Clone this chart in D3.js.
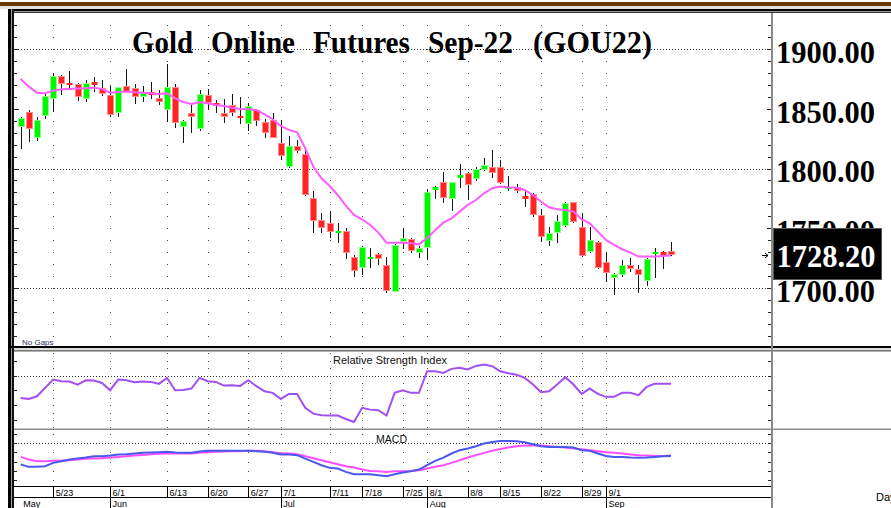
<!DOCTYPE html>
<html>
<head>
<meta charset="utf-8">
<title>Gold Online Futures Sep-22 (GOU22)</title>
<script src="https://cdn.jsdelivr.net/npm/d3@7"></script>
<style>
  body { margin: 0; background: #fff; }
  svg { display: block; }
  .serif-bold { font-family: 'Liberation Serif', 'Times New Roman', serif; font-weight: bold; }
  .sans { font-family: 'Liberation Sans', Arial, sans-serif; }
</style>
</head>
<body>
<svg id="chart"></svg>
<script>
// daily bars (mid May .. mid Sep 2022)
const opens = [1835.0, 1847.5, 1825.8, 1844.1, 1857.8, 1877.2, 1871.7, 1870.3, 1858.0, 1872.2, 1867.0, 1861.4, 1846.1, 1868.9, 1867.0, 1860.0, 1863.6, 1859.2, 1848.9, 1867.8,
  1835.0, 1846.6, 1832.7, 1861.7, 1854.4, 1846.6, 1853.0, 1843.9, 1837.2, 1848.9, 1838.6, 1840.5, 1821.6, 1801.6, 1818.8, 1812.1, 1775.7, 1757.1, 1754.8, 1745.9,
  1747.9, 1726.5, 1716.7, 1725.6, 1728.7, 1719.5, 1697.2, 1739.0, 1740.9, 1729.8, 1733.4, 1782.1, 1788.5, 1774.3, 1791.8, 1796.0, 1791.0, 1798.8, 1801.0, 1801.0,
  1784.0, 1784.3, 1777.1, 1778.8, 1761.2, 1739.8, 1745.9, 1752.3, 1771.8, 1750.9, 1730.6, 1739.0, 1722.3, 1708.4, 1711.2, 1719.5, 1716.2, 1706.4, 1728.7, 1730.1, 1731.5];
const highs = [1843.3, 1848.9, 1843.3, 1862.8, 1880.0, 1878.1, 1881.4, 1871.1, 1873.9, 1876.1, 1873.9, 1868.9, 1868.3, 1883.1, 1870.6, 1868.9, 1872.5, 1865.6, 1887.3, 1870.6,
  1840.5, 1855.0, 1865.6, 1866.1, 1857.2, 1857.8, 1861.9, 1860.0, 1855.0, 1849.4, 1841.1, 1846.6, 1840.5, 1827.2, 1823.8, 1817.7, 1781.5, 1762.6, 1764.6, 1754.8,
  1750.1, 1727.8, 1735.6, 1733.4, 1729.2, 1726.5, 1736.7, 1750.1, 1741.8, 1735.4, 1782.7, 1785.4, 1797.4, 1789.0, 1803.5, 1797.4, 1801.0, 1808.5, 1815.5, 1807.1,
  1793.8, 1787.1, 1781.5, 1779.9, 1766.0, 1750.9, 1761.2, 1771.8, 1772.3, 1762.6, 1751.5, 1739.8, 1730.6, 1712.6, 1723.7, 1725.0, 1719.5, 1725.0, 1733.4, 1731.5, 1739.0];
const lows = [1816.0, 1822.4, 1823.3, 1841.1, 1846.9, 1861.4, 1867.0, 1856.4, 1855.8, 1864.2, 1860.8, 1842.7, 1843.3, 1863.6, 1853.6, 1855.8, 1857.8, 1853.0, 1838.6, 1834.1,
  1821.0, 1829.4, 1831.6, 1848.9, 1846.6, 1837.7, 1843.9, 1837.2, 1831.6, 1835.8, 1825.8, 1825.2, 1807.1, 1800.2, 1813.2, 1777.1, 1745.9, 1745.9, 1741.8, 1737.6,
  1724.2, 1709.2, 1711.2, 1716.7, 1719.5, 1695.9, 1696.7, 1732.6, 1729.2, 1725.0, 1723.7, 1774.3, 1771.0, 1764.8, 1783.5, 1773.7, 1789.9, 1798.2, 1791.8, 1787.1,
  1781.5, 1779.3, 1768.2, 1759.8, 1739.0, 1735.4, 1738.1, 1751.5, 1754.3, 1725.9, 1729.8, 1715.9, 1705.6, 1694.5, 1709.2, 1713.9, 1695.9, 1702.0, 1708.4, 1715.9, 1727.0];
const closes = [1841.9, 1833.0, 1840.5, 1860.6, 1877.5, 1870.6, 1870.8, 1859.4, 1871.7, 1870.0, 1862.2, 1845.0, 1867.8, 1864.2, 1859.4, 1862.8, 1861.4, 1855.8, 1868.3, 1838.3,
  1839.4, 1842.7, 1862.2, 1855.0, 1852.2, 1842.7, 1846.1, 1841.9, 1852.2, 1839.7, 1829.4, 1825.8, 1810.5, 1818.8, 1814.9, 1777.9, 1756.5, 1750.1, 1747.3, 1747.6,
  1729.2, 1714.8, 1734.8, 1726.2, 1724.2, 1698.1, 1736.2, 1742.3, 1731.5, 1734.0, 1780.7, 1784.9, 1775.1, 1788.5, 1794.6, 1786.3, 1799.3, 1803.0, 1796.6, 1788.2,
  1784.9, 1781.5, 1774.9, 1761.2, 1742.6, 1745.9, 1756.2, 1771.0, 1755.7, 1727.3, 1740.4, 1716.7, 1713.1, 1711.7, 1719.5, 1715.9, 1711.2, 1724.5, 1730.1, 1727.8, 1728.2];

// moving average drawn over the bars
const maValues = [1874.7, 1868.3, 1863.3, 1862.8, 1865.0, 1866.1, 1866.4, 1866.7, 1866.9, 1867.5, 1866.4, 1863.3, 1863.9, 1864.2, 1863.6, 1863.3, 1862.8, 1862.2, 1862.8, 1858.6, 1855.5,
  1853.9, 1855.3, 1854.4, 1853.0, 1852.2, 1850.8, 1849.7, 1849.4, 1848.9, 1845.2, 1841.1, 1835.5, 1832.2, 1830.2, 1816.9, 1801.6, 1791.8, 1785.4, 1777.9, 1769.0,
  1761.2, 1757.6, 1752.9, 1746.5, 1738.1, 1738.1, 1738.1, 1737.6, 1736.7, 1741.8, 1748.7, 1754.8, 1758.4, 1764.0, 1769.6, 1773.7, 1779.3, 1783.5, 1784.9, 1784.3,
  1784.0, 1782.1, 1777.9, 1772.4, 1767.6, 1766.0, 1765.4, 1764.0, 1757.6, 1754.3, 1747.3, 1740.4, 1736.2, 1732.6, 1729.8, 1726.5, 1726.5, 1726.5, 1727.0, 1727.3];

// lower studies
const rsiValues = [54.9, 54.2, 56.0, 61.7, 67.3, 66.2, 65.9, 63.9, 66.8, 66.6, 65.0, 60.1, 67.3, 66.8, 65.5, 65.9, 65.7, 64.4, 68.4, 60.1,
  60.3, 61.2, 68.4, 66.2, 65.7, 63.2, 63.5, 63.0, 66.8, 62.8, 59.4, 58.3, 54.2, 57.6, 57.6, 48.2, 44.3, 43.2, 43.0, 43.0,
  40.7, 38.7, 48.2, 47.0, 46.6, 43.0, 58.3, 60.1, 58.3, 58.3, 72.9, 72.9, 71.8, 74.5, 75.2, 74.1, 76.5, 77.4, 76.3, 72.9,
  71.6, 70.5, 68.4, 64.1, 58.7, 59.4, 63.9, 68.9, 63.9, 57.6, 61.2, 57.6, 55.6, 55.6, 58.3, 58.3, 56.7, 62.3, 64.4, 64.4, 64.4];
const macdValues = [-23.2, -25.7, -25.7, -25.0, -21.4, -19.6, -17.8, -16.7, -15.6, -14.1, -14.1, -13.4, -12.3, -12.0, -11.2, -10.5, -10.1, -9.8, -9.4, -10.1,
  -10.5, -10.5, -9.1, -8.3, -8.3, -8.3, -8.3, -8.3, -8.3, -8.7, -9.4, -10.5, -12.3, -12.3, -13.0, -16.7, -20.3, -23.9, -26.8, -27.5,
  -31.2, -33.7, -33.7, -33.7, -34.8, -35.9, -33.7, -31.9, -30.4, -28.6, -23.9, -19.2, -15.6, -11.2, -7.6, -5.8, -3.3, -0.4, 1.4, 2.5,
  2.5, 2.2, 1.1, -1.1, -3.3, -4.0, -4.0, -4.0, -4.7, -7.6, -8.3, -11.2, -13.8, -14.9, -14.9, -15.6, -15.9, -15.6, -14.9, -14.1, -13.8];
const signalValues = [-14.9, -17.8, -19.6, -19.6, -19.2, -19.2, -18.5, -17.8, -17.0, -16.7, -16.3, -15.6, -14.9, -14.1, -13.4, -12.7, -12.0, -11.6, -11.2, -11.2,
  -11.2, -11.2, -10.5, -9.8, -9.4, -9.1, -8.7, -8.7, -8.3, -8.3, -8.7, -9.8, -10.9, -11.2, -12.0, -14.1, -16.3, -18.5, -20.7, -22.8,
  -25.0, -26.4, -28.6, -30.1, -30.4, -31.2, -30.4, -30.4, -30.1, -29.3, -27.5, -25.7, -23.9, -21.4, -18.5, -15.6, -13.0, -10.5, -8.3, -6.2,
  -4.7, -3.3, -2.5, -2.2, -2.5, -3.3, -4.0, -4.7, -5.8, -6.5, -7.6, -8.7, -9.8, -10.5, -11.2, -12.3, -13.0, -13.4, -13.8, -13.8, -13.4];

// tick labels (bar index where each one sits)
const dayTickIndex = [4, 11, 18, 23, 28, 32, 38, 42, 47, 50, 55, 59, 64, 69, 72];
const dayTickLabels = ['5/23', '6/1', '6/13', '6/20', '6/27', '7/1', '7/11', '7/18', '7/25', '8/1', '8/8', '8/15', '8/22', '8/29', '9/1'];
const monthTickIndex = [0, 11, 32, 50, 72];
const monthTickLabels = ['May', 'Jun', 'Jul', 'Aug', 'Sep'];
const priceTicks = [1700, 1750, 1800, 1850, 1900];
const rsiTicks = [40, 50, 60, 70, 80];
const macdTicks = [-40, -30, -20, -10, 0, 10];
const lastPrice = 1728.20;
const titleWords = ['Gold', 'Online', 'Futures', 'Sep-22', '(GOU22)'];


class FuturesChart {

  constructor(_config) {
    this.config = {
      parentElement: _config.parentElement,
      containerWidth: _config.containerWidth || 891,
      containerHeight: _config.containerHeight || 508,
      plotLeft: 15,
      plotRight: 771
    };
    this.data = opens.map((o, i) => ({ i: i, open: o, high: highs[i], low: lows[i], close: closes[i] }));
    this.initVis();
  }

  initVis() {
    let vis = this;

    vis.svg = d3.select(vis.config.parentElement)
        .attr('width', vis.config.containerWidth)
        .attr('height', vis.config.containerHeight);

    vis.xScale = d3.scaleLinear()
        .domain([0, vis.data.length - 1])
        .range([20.7, 671]);

    vis.yPrice = d3.scaleLinear()
        .domain([1700, 1900])
        .range([288.3, 48.7]);

    vis.yRsi = d3.scaleLinear()
        .domain([40, 80])
        .range([420, 360.7]);

    vis.yMacd = d3.scaleLinear()
        .domain([-40, 10])
        .range([480, 434]);

    // pixel column of a bar
    vis.col = i => Math.round(vis.xScale(i));

    vis.renderVis();
  }

  renderVis() {
    let vis = this;
    vis.drawFrame();
    vis.drawGrid();
    vis.drawAxes();
    vis.drawCandles();
    vis.drawStudies();
    vis.drawText();
  }

  drawFrame() {
    let vis = this;
    const W = vis.config.containerWidth;
    const f = vis.svg.append('g').attr('shape-rendering', 'crispEdges');

    f.append('rect').attr('width', W).attr('height', vis.config.containerHeight).attr('fill', '#fff');
    // brown strip on top
    f.append('rect').attr('x', 0).attr('y', 2).attr('width', W).attr('height', 4).attr('fill', '#6b3a0b');
    f.append('rect').attr('x', 0).attr('y', 6).attr('width', W).attr('height', 3).attr('fill', '#e4e4e4');
    // double frame line
    f.append('rect').attr('x', 8).attr('y', 9).attr('width', W - 8).attr('height', 2).attr('fill', '#000');
    f.append('rect').attr('x', 8).attr('y', 11).attr('width', W - 8).attr('height', 1).attr('fill', '#9a9a9a');
    f.append('rect').attr('x', 8).attr('y', 12).attr('width', W - 8).attr('height', 1).attr('fill', '#333');
    // left border
    f.append('rect').attr('x', 8).attr('y', 9).attr('width', 3).attr('height', 499).attr('fill', '#000');
    f.append('rect').attr('x', 11).attr('y', 9).attr('width', 1).attr('height', 499).attr('fill', '#9a9a9a');
    f.append('rect').attr('x', 12).attr('y', 9).attr('width', 2).attr('height', 499).attr('fill', '#111');

    // price panel bottom and study separators
    f.append('rect').attr('x', 8).attr('y', 346).attr('width', W - 8).attr('height', 2).attr('fill', '#000');
    f.append('rect').attr('x', 14).attr('y', 348).attr('width', W - 14).attr('height', 2).attr('fill', '#dcdcdc');
    f.append('rect').attr('x', 14).attr('y', 350).attr('width', W - 14).attr('height', 1).attr('fill', '#7a7a7a');
    f.append('rect').attr('x', 14).attr('y', 351).attr('width', W - 14).attr('height', 1).attr('fill', '#b0b0b0');
    f.append('rect').attr('x', 14).attr('y', 428).attr('width', W - 14).attr('height', 1).attr('fill', '#c8c8c8');
    f.append('rect').attr('x', 14).attr('y', 429).attr('width', W - 14).attr('height', 1).attr('fill', '#8a8a8a');

    // date strip
    f.append('rect').attr('x', 14).attr('y', 486).attr('width', vis.config.plotRight - 14).attr('height', 1).attr('fill', '#000');
    f.append('rect').attr('x', 14).attr('y', 497).attr('width', vis.config.plotRight - 14).attr('height', 1).attr('fill', '#000');

    // right scale line
    f.append('rect').attr('x', vis.config.plotRight).attr('y', 13).attr('width', 2).attr('height', 495).attr('fill', '#8a8a8a');
  }

  drawGrid() {
    let vis = this;
    const g = vis.svg.append('g').attr('shape-rendering', 'crispEdges');

    const dotGrid = (levels, yScale, skip) => {
      g.append('g').selectAll('rect')
          .data(d3.cross(dayTickIndex, levels.filter(v => v !== skip)))
          .join('rect')
          .attr('x', d => vis.col(d[0]))
          .attr('y', d => Math.round(yScale(d[1])))
          .attr('width', 1)
          .attr('height', 1)
          .attr('fill', '#444');
    };

    const dotLine = (y) => {
      g.append('line')
          .attr('x1', vis.config.plotLeft).attr('x2', vis.config.plotRight)
          .attr('y1', Math.round(y) + 0.5).attr('y2', Math.round(y) + 0.5)
          .attr('stroke', '#333')
          .attr('stroke-dasharray', '1,2');
    };

    dotGrid(d3.range(1660, 1921, 10), vis.yPrice, null);
    g.selectAll('.skip').remove();
    [1700, 1800, 1900].forEach(v => dotLine(vis.yPrice(v)));

    dotGrid(d3.range(35, 86, 5), vis.yRsi, 70);
    dotLine(vis.yRsi(70));

    dotGrid(macdTicks, vis.yMacd, 0);
    dotLine(vis.yMacd(0));
  }

  drawAxes() {
    let vis = this;
    const tickOnly = (axis) => (g) => {
      g.call(axis);
      g.select('.domain').remove();
      g.selectAll('text').remove();
      g.selectAll('line').attr('stroke', '#222');
      g.attr('shape-rendering', 'crispEdges');
    };

    // left ticks
    vis.svg.append('g').attr('transform', 'translate(14,0)')
        .call(tickOnly(d3.axisRight(vis.yPrice).tickValues(d3.range(1660, 1921, 10)).tickSize(3)));
    vis.svg.append('g').attr('transform', 'translate(14,0)')
        .call(tickOnly(d3.axisRight(vis.yPrice).tickValues(priceTicks).tickSize(5)));
    vis.svg.append('g').attr('transform', 'translate(14,0)')
        .call(tickOnly(d3.axisRight(vis.yRsi).tickValues(rsiTicks).tickSize(3)));
    vis.svg.append('g').attr('transform', 'translate(14,0)')
        .call(tickOnly(d3.axisRight(vis.yMacd).tickValues(macdTicks).tickSize(3)));

    // right ticks
    vis.svg.append('g').attr('transform', `translate(${vis.config.plotRight},0)`)
        .call(tickOnly(d3.axisLeft(vis.yPrice).tickValues(d3.range(1660, 1921, 10)).tickSize(3)));
    vis.svg.append('g').attr('transform', `translate(${vis.config.plotRight},0)`)
        .call(tickOnly(d3.axisLeft(vis.yPrice).tickValues(priceTicks).tickSize(4)));
    vis.svg.append('g').attr('transform', `translate(${vis.config.plotRight},0)`)
        .call(tickOnly(d3.axisLeft(vis.yRsi).tickValues(rsiTicks).tickSize(3)));
    vis.svg.append('g').attr('transform', `translate(${vis.config.plotRight},0)`)
        .call(tickOnly(d3.axisLeft(vis.yMacd).tickValues(macdTicks).tickSize(3)));

    // price labels on the right
    vis.svg.append('g')
        .attr('transform', `translate(${vis.config.plotRight},0)`)
        .call(d3.axisRight(vis.yPrice).tickValues(priceTicks).tickSize(0).tickPadding(5).tickFormat(d3.format('.2f')))
        .call(g => g.select('.domain').remove())
        .call(g => g.selectAll('text')
            .attr('class', 'serif-bold')
            .attr('font-size', 32)
            .attr('fill', '#000')
            .attr('dy', '0.42em')
            .attr('textLength', 99)
            .attr('lengthAdjust', 'spacingAndGlyphs'));

    // date axis: day row + month row
    const dateRow = (tickIdx, labels, top, skipFirstLine) => {
      vis.svg.append('g')
          .attr('transform', `translate(0,${top})`)
          .call(d3.axisBottom(vis.xScale).tickValues(tickIdx).tickSize(11).tickFormat((d, i) => labels[i]))
          .call(g => g.select('.domain').remove())
          .call(g => g.selectAll('line').attr('stroke', '#000').attr('shape-rendering', 'crispEdges'))
          .call(g => g.selectAll('.tick').filter((d, i) => skipFirstLine && i === 0).select('line').remove())
          .call(g => g.selectAll('text')
              .attr('class', 'sans')
              .attr('font-size', 9)
              .attr('fill', '#000')
              .attr('text-anchor', 'start')
              .attr('x', 2)
              .attr('y', 9.5)
              .attr('dy', 0));
    };
    dateRow(dayTickIndex, dayTickLabels, 486, false);
    dateRow(monthTickIndex, monthTickLabels, 497, true);
  }

  drawCandles() {
    let vis = this;
    const upFill = '#00f800', upEdge = '#8cff8c';
    const downFill = '#ff2424', downEdge = '#ff8c8c';

    const g = vis.svg.append('g').attr('shape-rendering', 'crispEdges');

    g.selectAll('.wick')
        .data(vis.data)
        .join('line')
        .attr('class', 'wick')
        .attr('x1', d => vis.col(d.i) + 0.5)
        .attr('x2', d => vis.col(d.i) + 0.5)
        .attr('y1', d => Math.round(vis.yPrice(d.high)))
        .attr('y2', d => Math.round(vis.yPrice(d.low)))
        .attr('stroke', '#151515');

    const body = d => {
      const top = Math.round(vis.yPrice(Math.max(d.open, d.close)));
      const bot = Math.max(top + 2, Math.round(vis.yPrice(Math.min(d.open, d.close))));
      return { top: top, h: bot - top, up: d.close >= d.open };
    };

    g.selectAll('.body-edge')
        .data(vis.data)
        .join('rect')
        .attr('class', 'body-edge')
        .attr('x', d => vis.col(d.i) - 3)
        .attr('width', 7)
        .attr('y', d => body(d).top)
        .attr('height', d => body(d).h)
        .attr('fill', d => body(d).up ? upEdge : downEdge);

    g.selectAll('.body')
        .data(vis.data)
        .join('rect')
        .attr('class', 'body')
        .attr('x', d => vis.col(d.i) - 2)
        .attr('width', 5)
        .attr('y', d => body(d).h > 3 ? body(d).top + 1 : body(d).top)
        .attr('height', d => body(d).h > 3 ? body(d).h - 2 : body(d).h)
        .attr('fill', d => body(d).up ? upFill : downFill);

    vis.svg.append('path')
        .datum(maValues)
        .attr('fill', 'none')
        .attr('stroke', '#ff5cff')
        .attr('stroke-width', 2)
        .attr('d', d3.line().x((d, i) => vis.xScale(i)).y(d => vis.yPrice(d)));
  }

  drawStudies() {
    let vis = this;

    vis.svg.append('path')
        .datum(rsiValues)
        .attr('fill', 'none')
        .attr('stroke', '#a24ff2')
        .attr('stroke-width', 2)
        .attr('d', d3.line().x((d, i) => vis.xScale(i)).y(d => vis.yRsi(d)));

    vis.svg.append('path')
        .datum(signalValues)
        .attr('fill', 'none')
        .attr('stroke', '#ff4cff')
        .attr('stroke-width', 2)
        .attr('d', d3.line().x((d, i) => vis.xScale(i)).y(d => vis.yMacd(d)));

    vis.svg.append('path')
        .datum(macdValues)
        .attr('fill', 'none')
        .attr('stroke', '#4a58ee')
        .attr('stroke-width', 2)
        .attr('d', d3.line().x((d, i) => vis.xScale(i)).y(d => vis.yMacd(d)));
  }

  drawText() {
    let vis = this;

    // title, word by word (the original leaves wide gaps)
    const wordX = [132, 211, 313, 428, 533];
    const wordW = [61, 84, 97, 85, 119];
    vis.svg.append('g').selectAll('text')
        .data(titleWords)
        .join('text')
        .attr('class', 'serif-bold')
        .attr('font-size', 31)
        .attr('x', (d, i) => wordX[i])
        .attr('y', 53)
        .attr('textLength', (d, i) => wordW[i])
        .attr('lengthAdjust', 'spacingAndGlyphs')
        .attr('fill', '#000')
        .text(d => d);

    // last price marker
    const yLast = vis.yPrice(lastPrice);
    vis.svg.append('rect')
        .attr('x', 773).attr('y', 228)
        .attr('width', 108).attr('height', 51)
        .attr('fill', '#000')
        .attr('stroke', '#555')
        .attr('shape-rendering', 'crispEdges');
    vis.svg.append('text')
        .attr('class', 'serif-bold')
        .attr('font-size', 32)
        .attr('x', 776.5)
        .attr('y', yLast)
        .attr('dy', '0.38em')
        .attr('textLength', 99)
        .attr('lengthAdjust', 'spacingAndGlyphs')
        .attr('fill', '#fff')
        .text(lastPrice.toFixed(2));
    const ya = Math.round(yLast) + 0.5;
    vis.svg.append('path')
        .attr('d', `M762,${ya}H768M765,${ya - 2.5}L768,${ya}L765,${ya + 2.5}`)
        .attr('fill', 'none')
        .attr('stroke', '#000')
        .attr('stroke-width', 1);

    vis.svg.append('text')
        .attr('class', 'sans')
        .attr('font-size', 8)
        .attr('x', 22).attr('y', 345)
        .attr('fill', '#25305a')
        .text('No Gaps');

    vis.svg.append('text')
        .attr('class', 'sans')
        .attr('font-size', 11)
        .attr('x', 333).attr('y', 364)
        .attr('textLength', 114)
        .attr('lengthAdjust', 'spacingAndGlyphs')
        .attr('fill', '#111')
        .text('Relative Strength Index');

    vis.svg.append('text')
        .attr('class', 'sans')
        .attr('font-size', 11)
        .attr('x', 376).attr('y', 443)
        .attr('textLength', 31)
        .attr('lengthAdjust', 'spacingAndGlyphs')
        .attr('fill', '#111')
        .text('MACD');

    vis.svg.append('text')
        .attr('class', 'sans')
        .attr('font-size', 11)
        .attr('x', 876).attr('y', 501)
        .attr('fill', '#000')
        .text('Day');
  }
}

new FuturesChart({ parentElement: '#chart' });
</script>
</body>
</html>
